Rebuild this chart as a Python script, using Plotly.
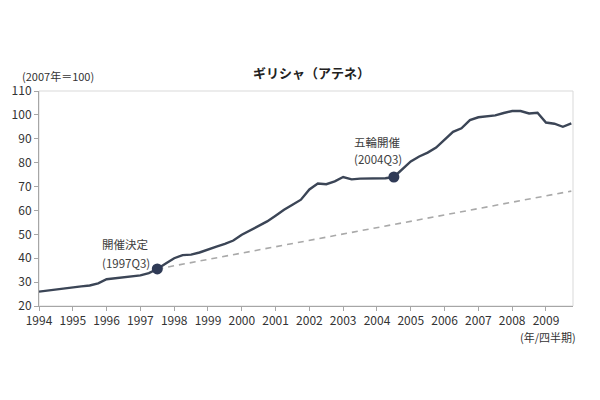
import plotly.graph_objects as go

# ---- data ----
years = list(range(1994, 2010))
quarters = [1, 2, 3, 4]
index_values = [
    26.0, 26.5, 27.0, 27.4,   # 1994
    27.8, 28.2, 28.6, 29.5,   # 1995
    31.2, 31.6, 32.0, 32.3,   # 1996
    32.8, 33.8, 35.5, 37.8,   # 1997
    40.0, 41.3, 41.5, 42.4,   # 1998
    43.8, 44.9, 46.0, 47.4,   # 1999
    49.8, 51.6, 53.4, 55.4,   # 2000
    57.8, 60.3, 62.4, 64.5,   # 2001
    68.8, 71.3, 71.0, 72.2,   # 2002
    74.0, 73.0, 73.3, 73.4,   # 2003
    73.4, 73.5, 74.0, 77.3,   # 2004
    80.5, 82.6, 84.2, 86.3,   # 2005
    89.8, 92.9, 94.4, 97.8,   # 2006
    99.0, 99.4, 99.8, 100.8,  # 2007
    101.6, 101.6, 100.6, 100.9,  # 2008
    96.8, 96.3, 95.0, 96.4,   # 2009
]
trend_labels = ["1997Q3", "2009Q4"]
trend_values = [35.5, 68.1]
event_labels = ["1997Q3", "2004Q3"]
event_texts = ["開催決定", "五輪開催"]
y_ticks = [20, 30, 40, 50, 60, 70, 80, 90, 100, 110]
x_tick_labels = [str(y) for y in years]

# positions derived from category labels (year + quarter)
def qpos(label):
    y, q = label.split("Q")
    return int(y) + (int(q) - 1) / 4

x_vals = [y + (q - 1) / 4 for y in years for q in quarters]
event_x = [qpos(l) for l in event_labels]
event_y = [index_values[x_vals.index(x)] for x in event_x]
trend_x = [qpos(l) for l in trend_labels]

FONT = "Noto Sans CJK JP"
fig = go.Figure()
fig.add_trace(go.Scatter(x=trend_x, y=trend_values, mode="lines",
                         line=dict(color="#a9a9a9", width=1.6, dash="6px,5px"),
                         hoverinfo="skip"))
fig.add_trace(go.Scatter(x=x_vals, y=index_values, mode="lines",
                         line=dict(color="#3b4556", width=2.4)))
fig.add_trace(go.Scatter(x=event_x, y=event_y, mode="markers",
                         marker=dict(color="#2f3a56", size=11)))

fig.update_layout(
    width=600, height=400,
    margin=dict(l=39, r=27, t=91, b=94),
    paper_bgcolor="white", plot_bgcolor="white",
    showlegend=False,
    font=dict(family=FONT, size=12, color="#333333"),
    xaxis=dict(range=[1994, 2009.8], tickvals=years, ticktext=x_tick_labels,
               showgrid=False, zeroline=False, showline=True, linecolor="#a6a6a6",
               linewidth=1, ticks="outside", ticklen=4, tickcolor="#a6a6a6",
               tickfont=dict(size=12, color="#333333")),
    yaxis=dict(range=[20, 110], tickvals=y_ticks, showgrid=False, zeroline=False,
               showline=True, linecolor="#a6a6a6", linewidth=1, ticks="outside",
               ticklen=4, tickcolor="#a6a6a6", tickfont=dict(size=12, color="#333333")),
    shapes=[dict(type="rect", xref="paper", yref="paper", x0=0, x1=1, y0=0, y1=1,
                 line=dict(color="#d9d9d9", width=1), layer="below")],
)

anns = [
    dict(text="<b>ギリシャ（アテネ）</b>", x=0.511, y=1.088, xref="paper", yref="paper",
         xanchor="center", yanchor="middle", font=dict(size=13, color="#222222")),
    dict(text="(2007年＝100)", x=-0.036, y=1.07, xref="paper", yref="paper",
         xanchor="left", yanchor="middle", font=dict(size=11, color="#333333")),
    dict(text="(年/四半期)", x=1.0094, y=-0.145, xref="paper", yref="paper",
         xanchor="right", yanchor="middle", font=dict(size=11, color="#333333")),
    dict(text=event_texts[0], x=1996.55, y=46.0, xanchor="center", yanchor="middle"),
    dict(text="(" + event_labels[0] + ")", x=1996.58, y=38.2, xanchor="center", yanchor="middle"),
    dict(text=event_texts[1], x=2004.0, y=88.7, xanchor="center", yanchor="middle"),
    dict(text="(" + event_labels[1] + ")", x=2004.03, y=81.7, xanchor="center", yanchor="middle"),
]
for a in anns:
    a.setdefault("showarrow", False)
    if "font" not in a:
        a["font"] = dict(size=11.5, color="#404040")
fig.update_layout(annotations=anns)

fig.write_html("out.html")
